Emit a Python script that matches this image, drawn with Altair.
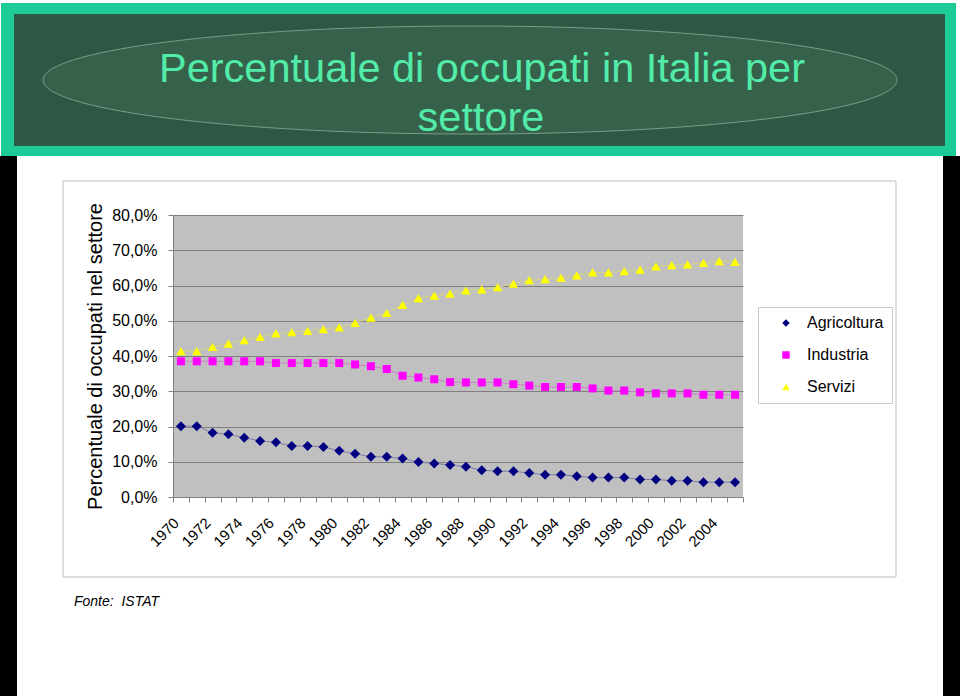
import altair as alt
import pandas as pd

# ---------------- data ----------------
years = list(range(1970, 2006))
agricoltura = [20.1, 20.1, 18.2, 17.8, 16.8, 15.9, 15.5, 14.5, 14.5, 14.2,
               13.1, 12.3, 11.4, 11.4, 10.9, 9.9, 9.5, 9.1, 8.6, 7.6,
               7.3, 7.3, 6.8, 6.3, 6.3, 5.9, 5.5, 5.5, 5.5, 5.0,
               5.0, 4.6, 4.6, 4.2, 4.2, 4.2]
industria = [38.5, 38.5, 38.5, 38.5, 38.5, 38.5, 38.0, 38.0, 38.0, 38.0,
             38.0, 37.6, 37.1, 36.3, 34.4, 33.9, 33.4, 32.6, 32.5, 32.5,
             32.5, 32.0, 31.6, 31.2, 31.2, 31.2, 30.8, 30.2, 30.2, 29.7,
             29.4, 29.4, 29.4, 29.0, 29.0, 29.0]
servizi = [41.4, 41.4, 42.6, 43.5, 44.5, 45.4, 46.4, 46.8, 47.1, 47.6,
           48.1, 49.4, 50.9, 52.2, 54.5, 56.4, 57.1, 57.7, 58.6, 58.9,
           59.5, 60.5, 61.5, 61.8, 62.2, 62.9, 63.7, 63.7, 64.1, 64.5,
           65.4, 65.8, 66.0, 66.4, 66.9, 66.7]
settori = ["Agricoltura", "Industria", "Servizi"]
y_ticks = [0, 10, 20, 30, 40, 50, 60, 70, 80]

titolo_1 = "Percentuale di occupati in Italia per"
titolo_2 = "settore"
titolo_y = "Percentuale di occupati nel settore"
fonte = "Fonte: \u00a0ISTAT"

# ---------------- styles ----------------
colori = ["#000080", "#FF00FF", "#FFFF00"]
colori_linee = ["#7D7DAA", "#D27DD2", "#D6D67D"]
forme = ["diamond", "square", "triangle-up"]
dimensioni = [100, 64, 90]
FONT = "Liberation Sans"

rows = []
for s, vals in zip(settori, [agricoltura, industria, servizi]):
    for yr, v in zip(years, vals):
        rows.append({"Anno": yr, "Settore": s, "Valore": v})
df = pd.DataFrame(rows)

W, H = 570, 282          # plot area
OX, OY = 173, 215        # plot origin on the page
one = pd.DataFrame({"k": [0]})


def box(x0, y0, x1, y1, **kw):
    return alt.Chart(one).mark_rect(**kw).encode(
        x=alt.value(x0 - OX), x2=alt.value(x1 - OX),
        y=alt.value(y0 - OY), y2=alt.value(y1 - OY))


def label(txt, x, y, **kw):
    return alt.Chart(one).mark_text(text=txt, font=FONT, **kw).encode(
        x=alt.value(x - OX), y=alt.value(y - OY))


# ---------------- decorations (slide) ----------------
teal = box(1, 3, 956, 156, color="#1CCB96")
inner = box(14, 14, 945, 146, color="#2D5843")
ellipse = alt.Chart(one).mark_point(
    shape="M-1,0 A1,0.1265 0 1,1 1,0 A1,0.1265 0 1,1 -1,0 Z",
    size=854 * 854, filled=True, fill="#36624C", stroke="#7E9C8B",
    strokeWidth=1, opacity=1).encode(x=alt.value(470 - OX), y=alt.value(80 - OY))
t1 = label(titolo_1, 482, 82, fontSize=41.5, color="#52EBA8", align="center", baseline="alphabetic")
t2 = label(titolo_2, 481, 131, fontSize=41.5, color="#52EBA8", align="center", baseline="alphabetic")
black_l = box(0, 156, 17, 696, color="black")
black_r = box(943, 156, 960, 696, color="black")
frame = box(63, 181, 896, 577, fill="white", fillOpacity=0, stroke="#BDBDBD", strokeWidth=1)
src = label(fonte, 74, 606, fontSize=14, fontStyle="italic", color="black", align="left", baseline="alphabetic")

# ---------------- chart ----------------
x_enc = alt.X("Anno:O",
              scale=alt.Scale(type="band", paddingInner=0, paddingOuter=0),
              axis=alt.Axis(title=None, labelAngle=-45, labelAlign="right", labelBaseline="middle",
                            labelExpr="datum.value % 2 == 0 ? datum.label : ''",
                            labelOverlap=False, tickBand="extent", tickSize=5,
                            tickColor="#808080", domainColor="#808080", grid=False,
                            labelFontSize=15, labelFont=FONT, labelColor="black",
                            labelPadding=18, labelOffset=-5))
y_enc = alt.Y("Valore:Q",
              scale=alt.Scale(domain=[0, 80], nice=False),
              axis=alt.Axis(values=y_ticks,
                            labelExpr="replace(format(datum.value, '.1f'), '.', ',') + '%'",
                            title=titolo_y, titleFont=FONT, titleFontSize=20, titleFontWeight="normal",
                            titleColor="black", titlePadding=6,
                            labelFont=FONT, labelFontSize=16, labelColor="black", labelPadding=11,
                            tickSize=5, tickColor="#808080", domainColor="#808080",
                            grid=True, gridColor="#808080", gridWidth=1))

color_enc = alt.Color("Settore:N", scale=alt.Scale(domain=settori, range=colori))
shape_enc = alt.Shape("Settore:N", scale=alt.Scale(domain=settori, range=forme))

line_layers = []
point_layers = []
for s, cl, sz in zip(settori, colori_linee, dimensioni):
    line_layers.append(
        alt.Chart(df).transform_filter(alt.datum.Settore == s)
        .mark_line(color=cl, strokeWidth=1).encode(x=x_enc, y=y_enc))
    point_layers.append(
        alt.Chart(df).transform_filter(alt.datum.Settore == s)
        .mark_point(filled=True, opacity=1, size=sz)
        .encode(x=x_enc, y=y_enc, color=color_enc, shape=shape_enc))

chart = alt.layer(
    teal, inner, ellipse, t1, t2, black_l, black_r, frame, src, *line_layers, *point_layers
).properties(
    width=W, height=H,
    autosize=alt.AutoSizeParams(type="none"),
    padding={"left": OX, "top": OY, "right": 960 - OX - W, "bottom": 696 - OY - H},
    background="white",
).configure_view(fill="#C0C0C0", strokeWidth=0).configure_legend(
    title=None, orient="none", legendX=585, legendY=92, padding=8,
    strokeColor="#C8C8C8", fillColor="white", labelFont=FONT, labelFontSize=16,
    labelColor="black", symbolSize=55, symbolOffset=12, labelOffset=13,
    rowPadding=16, symbolStrokeWidth=0)

chart.save("out.html", embed_options={"renderer": "svg", "actions": False})
